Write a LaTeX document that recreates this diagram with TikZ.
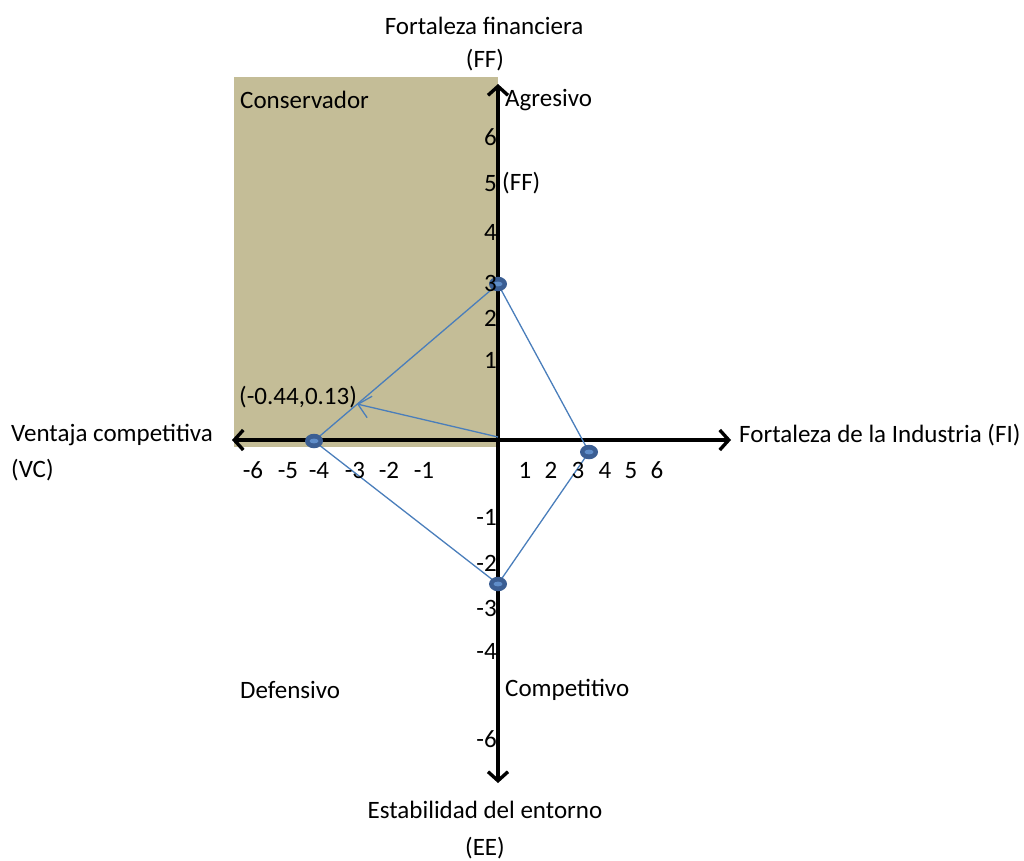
\documentclass[tikz,border=0pt]{standalone}
\usepackage{fontspec}
\setmainfont{Carlito}
\usetikzlibrary{arrows.meta,shapes.geometric}
\definecolor{tanfill}{HTML}{C4BD97}
\definecolor{linkblue}{HTML}{4A7EBB}
\definecolor{dotblue}{HTML}{3B5E93}
\definecolor{dotlight}{HTML}{5F8DC9}

\begin{document}
\begin{tikzpicture}[x=1pt,y=-1pt,
  lbl/.style={inner sep=0pt, font=\fontsize{25}{29}\selectfont},
  axis/.style={line width=3.4pt, {Straight Barb[length=9pt,width=20pt,line width=3.4pt]}-{Straight Barb[length=9pt,width=20pt,line width=3.4pt]}},
  link/.style={linkblue, line width=1.3pt},
  dot/.style={ellipse, fill=dotblue, minimum width=18pt, minimum height=14.5pt, inner sep=0pt}]
\useasboundingbox (0,0) rectangle (1024,860);
\fill[tanfill] (234,77) rectangle (498,447);
% axes
\coordinate (o) at (498,440);
\coordinate (xl) at (232,440);
\coordinate (xr) at (731,440);
\coordinate (yt) at (498,84);
\coordinate (yb) at (498,783);
\draw[axis] (xl) -- (xr);
\draw[axis] (yb) -- (yt);
% points
\coordinate (pff) at (498,284);
\coordinate (pfi) at (589,452);
\coordinate (pee) at (498,584);
\coordinate (pvc) at (314,441);
\coordinate (res) at (357,404);
\coordinate (o2) at (498,437);
\draw[link] (pff) -- (pvc) -- (pee) -- (pfi) -- cycle;
\draw[link, -{Straight Barb[length=12pt,width=22pt,line width=1.3pt]}] (o2) -- (res);
\foreach \p in {pff,pfi,pee,pvc} {
  \node[dot] (d\p) at (\p) {};
  \fill[dotlight] (\p) ellipse (4.5 and 2.4);
}
% tick labels
\foreach \x/\t in {253/-6,288/-5,319/-4,355/-3,389/-2,424/-1,525/1,551/2,578/3,605/4,631/5,657/6}
  \node[lbl, anchor=base] (tx\t) at (\x,478) {\t};
\foreach \y/\t in {137/6,183/5,232/4,283/3,318/2,360/1,517/-1,563/-2,608/-3,651/-4,739/-6}
  \node[lbl, anchor=base east] (ty\t) at (497,\y+8) {\t};
% texts
\node[lbl] (fftitle) at (484,26) {Fortaleza financiera};
\node[lbl] (ffabbr) at (485,60) {(FF)};
\node[lbl, anchor=west] (ffside) at (502,183) {(FF)};
\node[lbl, anchor=west] (cons) at (240,100) {Conservador};
\node[lbl, anchor=west] (agr) at (505,100) {Agresivo};
\node[lbl, anchor=west] (vc) at (11,435) {Ventaja competitiva};
\node[lbl, anchor=west] (vcabbr) at (11,470) {(VC)};
\node[lbl, anchor=west] (fi) at (739,435) {Fortaleza de la Industria (FI)};
\node[lbl, anchor=west] (reslbl) at (239,397) {(-0.44,0.13)};
\node[lbl, anchor=west] (def) at (240,690) {Defensivo};
\node[lbl, anchor=west] (comp) at (505,690) {Competitivo};
\node[lbl] (ee) at (485,810) {Estabilidad del entorno};
\node[lbl] (eeabbr) at (485,848) {(EE)};
\end{tikzpicture}
\end{document}
